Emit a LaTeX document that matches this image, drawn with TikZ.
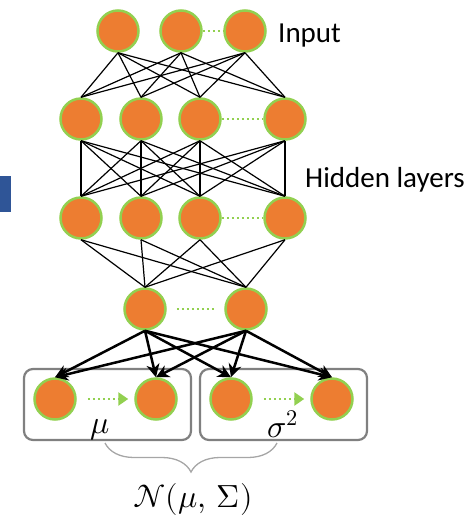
\documentclass[tikz,border=0pt]{standalone}
\usepackage{fontspec}
\usepackage{unicode-math}
\setmainfont{Carlito}
\setmathfont{Latin Modern Math}
\usetikzlibrary{arrows.meta,decorations.pathreplacing}
\definecolor{nodeorange}{HTML}{ED7D31}
\definecolor{nodegreen}{HTML}{92D050}
\definecolor{boxgray}{HTML}{808080}
\definecolor{bracegray}{HTML}{A6A6A6}
\definecolor{barblue}{HTML}{2F5597}

\begin{document}
\begin{tikzpicture}[
            x=1pt, y=-1pt,
            every node/.style={font=\fontsize{29}{34}\selectfont},
            neuron/.style={circle, draw=nodegreen, fill=nodeorange, line width=2.5pt, minimum size=41pt, inner sep=0pt},
            groupbox/.style={draw=boxgray, line width=2.2pt, rounded corners=9pt, minimum width=167pt, minimum height=71pt},
            link/.style={line width=1.2pt},
            outarrow/.style={-{Stealth[length=13pt,width=13pt,inset=4pt]}, line width=2.5pt},
            gap/.style={draw=nodegreen, line width=2.5pt, dash pattern=on 2.5pt off 2.5pt},
            gaparrow/.style={gap, -{Triangle[length=10pt,width=13pt]}},
            lbl/.style={inner sep=0pt},
            mathlbl/.style={lbl, font=\fontsize{32}{38}\selectfont}
        ]
        \useasboundingbox (0,0) rectangle (469,515);
        \fill[barblue] (0,176) rectangle (11,212);

        % Output groups
        \node[groupbox] (mu_box) at (107.5,404.5) {};
        \node[groupbox] (var_box) at (283.5,404.5) {};

        % Nodes — one row per layer
        \node[neuron] (in_a) at (118,31) {};
        \node[neuron] (in_b) at (181,31) {};
        \node[neuron] (in_c) at (245,31) {};

        \node[neuron] (hid1_a) at (81,119) {};
        \node[neuron] (hid1_b) at (141,119) {};
        \node[neuron] (hid1_c) at (200,119) {};
        \node[neuron] (hid1_d) at (285,119) {};

        \node[neuron] (hid2_a) at (81,218) {};
        \node[neuron] (hid2_b) at (141,218) {};
        \node[neuron] (hid2_c) at (200,218) {};
        \node[neuron] (hid2_d) at (285,218) {};

        \node[neuron] (lat_a) at (145,309) {};
        \node[neuron] (lat_b) at (246,309) {};

        \node[neuron] (mu_a) at (55,399) {};
        \node[neuron] (mu_b) at (156,399) {};
        \node[neuron] (var_a) at (231,399) {};
        \node[neuron] (var_b) at (332,399) {};

        % Labels
        \node[lbl, anchor=base west] (input_lbl) at (278,42) {Input};
        \node[lbl, anchor=base west] (hidden_lbl) at (305,187) {Hidden layers};
        \node[mathlbl] (mu_lbl) at (100,430) {$\mu$};
        \node[mathlbl] (var_lbl) at (283,424) {$\sigma^2$};
        \node[mathlbl] (normal_lbl) at (193,499) {$\mathcal{N}(\mu,\,\Sigma)$};

        % === EDGES ===
        \foreach \s in {in_a,in_b,in_c}
            \foreach \t in {hid1_a,hid1_b,hid1_c,hid1_d}
                \draw[link] (\s.south) -- (\t.north);
        \foreach \s in {hid1_a,hid1_b,hid1_c,hid1_d}
            \foreach \t in {hid2_a,hid2_b,hid2_c,hid2_d}
                \draw[link] (\s.south) -- (\t.north);
        \foreach \s in {hid2_a,hid2_b,hid2_c,hid2_d}
            \foreach \t in {lat_a,lat_b}
                \draw[link] (\s.south) -- (\t.north);
        \foreach \s in {lat_a,lat_b}
            \foreach \t in {mu_a,mu_b,var_a,var_b}
                \draw[outarrow] (\s.south) -- (\t.north);

        % dotted gaps inside the layers
        \draw[gap] (in_b) -- (in_c);
        \draw[gap] (hid1_c) -- (hid1_d);
        \draw[gap] (hid2_c) -- (hid2_d);
        \draw[gap, shorten <=10pt, shorten >=10pt] (lat_a) -- (lat_b);
        \draw[gaparrow, shorten <=11pt, shorten >=6pt] (mu_a) -- (mu_b);
        \draw[gaparrow, shorten <=11pt, shorten >=6pt] (var_a) -- (var_b);

        % brace under both groups
        \draw[bracegray, line width=1.3pt, decorate, decoration={brace, mirror, amplitude=29pt}] (105,443) -- (277,443);

    \end{tikzpicture}
\end{document}
